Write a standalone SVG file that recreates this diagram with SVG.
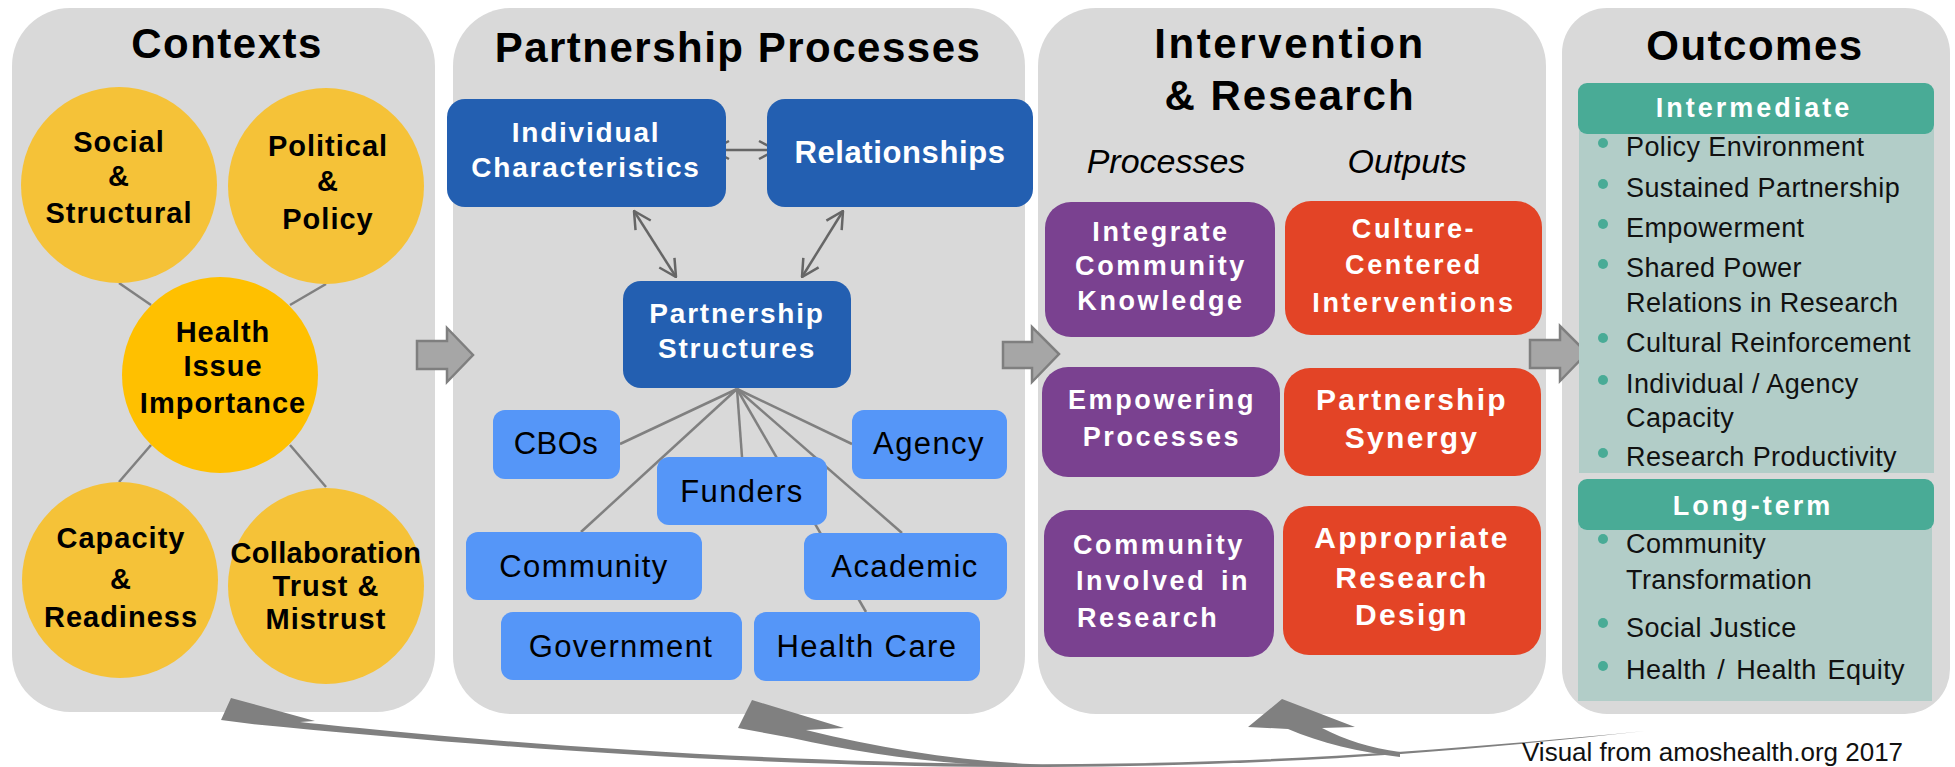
<svg xmlns="http://www.w3.org/2000/svg" width="1955" height="767" viewBox="0 0 1955 767">
<style>
text{font-family:"Liberation Sans",Arial,Helvetica,sans-serif}
.panel{fill:#d9d9d9}
.title{font-size:42px;font-weight:bold;fill:#000;text-anchor:middle;letter-spacing:1.5px}
.circ{fill:#f5c238}
.ctext{font-size:29px;font-weight:bold;fill:#000;text-anchor:middle;letter-spacing:1px}
.db{fill:#235fb1}
.dbt{font-size:28px;font-weight:bold;fill:#fff;text-anchor:middle;letter-spacing:1.8px}
.lb{fill:#5596f8}
.lbt{font-size:31px;fill:#000;text-anchor:middle;letter-spacing:1.4px}
.pu{fill:#7a4190}
.or{fill:#e34426}
.bt{font-size:27px;font-weight:bold;fill:#fff;text-anchor:middle;letter-spacing:2.6px}
.bt2{font-size:30px;font-weight:bold;fill:#fff;text-anchor:middle;letter-spacing:2.3px}
.sub{font-size:34px;font-style:italic;fill:#000;text-anchor:middle}
.hd{fill:#49ab96}
.bd{fill:#b2cdc8}
.ht{font-size:27px;font-weight:bold;fill:#fff;text-anchor:middle;letter-spacing:3px}
.it{font-size:27px;fill:#111;letter-spacing:0.4px}
.dot{fill:#49ab96}
.ln{stroke:#808080;stroke-width:2.5;fill:none}
.dl{stroke:#666;stroke-width:2.5;fill:none}
.blk{fill:#a6a6a6;stroke:#7f7f7f;stroke-width:2.5}
.fb{fill:#808080}
</style>
<defs>
<marker id="ah" viewBox="0 0 20 22" refX="19" refY="11" markerWidth="20" markerHeight="22" markerUnits="userSpaceOnUse" orient="auto-start-reverse">
<path d="M2,2 L19,11 L2,20" fill="none" stroke="#666" stroke-width="2.5"/>
</marker>
</defs>

<!-- panels -->
<g id="panel-contexts">
<rect class="panel" x="12" y="8" width="423" height="704" rx="58"/>
<text class="title" x="227" y="58">Contexts</text>
</g>
<g id="panel-partnership">
<rect class="panel" x="453" y="8" width="572" height="706" rx="58"/>
<text class="title" x="738" y="62">Partnership Processes</text>
</g>
<g id="panel-intervention">
<rect class="panel" x="1038" y="8" width="508" height="706" rx="58"/>
<text class="title" x="1290" y="58" style="letter-spacing:2.6px">Intervention</text>
<text class="title" x="1290" y="110" style="letter-spacing:2px">&amp; Research</text>
<text class="sub" x="1166" y="173">Processes</text>
<text class="sub" x="1407" y="173">Outputs</text>
</g>
<g id="panel-outcomes">
<rect class="panel" x="1562" y="8" width="388" height="706" rx="45"/>
<text class="title" x="1755" y="60">Outcomes</text>
</g>

<!-- connectors -->
<g id="connectors">
<line class="ln" x1="119" y1="283" x2="151" y2="305"/>
<line class="ln" x1="326" y1="284" x2="290" y2="305"/>
<line class="ln" x1="151" y1="445" x2="119" y2="482"/>
<line class="ln" x1="290" y1="445" x2="326" y2="487"/>
<line class="ln" x1="737" y1="389" x2="620" y2="444"/>
<line class="ln" x1="737" y1="389" x2="581" y2="532"/>
<line class="ln" x1="737" y1="389" x2="742" y2="457"/>
<line class="ln" x1="737" y1="389" x2="866" y2="612"/>
<line class="ln" x1="737" y1="389" x2="902" y2="533"/>
<line class="ln" x1="737" y1="389" x2="852" y2="444"/>
<line class="dl" x1="712" y1="150" x2="776" y2="150" marker-start="url(#ah)" marker-end="url(#ah)"/>
<line class="dl" x1="634" y1="211" x2="676" y2="277" marker-start="url(#ah)" marker-end="url(#ah)"/>
<line class="dl" x1="843" y1="211" x2="802" y2="277" marker-start="url(#ah)" marker-end="url(#ah)"/>
<path class="blk" d="M417,341 H447 V328 L473,355 L447,382 V369 H417 Z"/>
<path class="blk" d="M1003,342 H1032 V327 L1059,354 L1032,382 V368 H1003 Z"/>
<path class="blk" d="M1530,340 H1560 V326 L1587,353 L1560,381 V368 H1530 Z"/>
<path class="fb" d="M231,698 L315,721 L300,722 C450,738 700,760 1000,764 C1250,766 1450,750 1645,731 C1450,753 1250,768 1000,767 C700,765 450,743 252,724 L221,720 Z"/>
<path class="fb" d="M752,700 L844,728 L806,730 C880,748 950,760 1030,764 L1030,767 C940,765 860,753 792,738 L738,728 Z"/>
<path class="fb" d="M1282,699 L1355,727 L1322,728 C1345,740 1370,748 1400,752 L1400,757 C1360,752 1320,743 1288,729 L1248,727 Z"/>
</g>

<!-- contexts nodes -->
<g id="social">
<circle class="circ" cx="119" cy="185" r="98"/>
<text class="ctext" x="119" y="152">Social</text>
<text class="ctext" x="119" y="186">&amp;</text>
<text class="ctext" x="119" y="223">Structural</text>
</g>
<g id="political">
<circle class="circ" cx="326" cy="186" r="98"/>
<text class="ctext" x="328" y="156">Political</text>
<text class="ctext" x="328" y="191">&amp;</text>
<text class="ctext" x="328" y="229">Policy</text>
</g>
<g id="health-issue">
<circle cx="220" cy="375" r="98" fill="#ffc000"/>
<text class="ctext" x="223" y="342">Health</text>
<text class="ctext" x="223" y="376">Issue</text>
<text class="ctext" x="223" y="413">Importance</text>
</g>
<g id="capacity">
<circle class="circ" cx="120" cy="580" r="98"/>
<text class="ctext" x="121" y="548">Capacity</text>
<text class="ctext" x="121" y="589">&amp;</text>
<text class="ctext" x="121" y="627">Readiness</text>
</g>
<g id="collaboration">
<circle class="circ" cx="326" cy="586" r="98"/>
<text class="ctext" x="326" y="563" style="letter-spacing:0.3px">Collaboration</text>
<text class="ctext" x="326" y="596">Trust &amp;</text>
<text class="ctext" x="326" y="629">Mistrust</text>
</g>

<!-- partnership nodes -->
<g id="individual">
<rect class="db" x="447" y="99" width="279" height="108" rx="18"/>
<text class="dbt" x="586" y="142">Individual</text>
<text class="dbt" x="586" y="177">Characteristics</text>
</g>
<g id="relationships">
<rect class="db" x="767" y="99" width="266" height="108" rx="18"/>
<text class="dbt" x="900" y="163" style="font-size:31px;letter-spacing:0.6px">Relationships</text>
</g>
<g id="structures">
<rect class="db" x="623" y="281" width="228" height="107" rx="18"/>
<text class="dbt" x="737" y="323">Partnership</text>
<text class="dbt" x="737" y="358">Structures</text>
</g>
<g id="cbos"><rect class="lb" x="493" y="410" width="127" height="69" rx="12"/><text class="lbt" x="556" y="454" style="letter-spacing:0.5px">CBOs</text></g>
<g id="agency"><rect class="lb" x="852" y="410" width="155" height="69" rx="12"/><text class="lbt" x="929" y="454">Agency</text></g>
<g id="funders"><rect class="lb" x="657" y="457" width="170" height="68" rx="12"/><text class="lbt" x="742" y="502">Funders</text></g>
<g id="community"><rect class="lb" x="466" y="532" width="236" height="68" rx="12"/><text class="lbt" x="584" y="577">Community</text></g>
<g id="academic"><rect class="lb" x="804" y="533" width="203" height="67" rx="12"/><text class="lbt" x="905" y="577">Academic</text></g>
<g id="government"><rect class="lb" x="501" y="612" width="241" height="68" rx="12"/><text class="lbt" x="621" y="657">Government</text></g>
<g id="healthcare"><rect class="lb" x="754" y="612" width="226" height="69" rx="12"/><text class="lbt" x="867" y="657">Health Care</text></g>

<!-- intervention nodes -->
<g id="integrate">
<rect class="pu" x="1045" y="202" width="230" height="135" rx="26"/>
<text class="bt" x="1161" y="241">Integrate</text>
<text class="bt" x="1161" y="275">Community</text>
<text class="bt" x="1161" y="310">Knowledge</text>
</g>
<g id="culture">
<rect class="or" x="1285" y="201" width="257" height="134" rx="26"/>
<text class="bt" x="1414" y="238">Culture-</text>
<text class="bt" x="1414" y="274">Centered</text>
<text class="bt" x="1414" y="312">Interventions</text>
</g>
<g id="empowering">
<rect class="pu" x="1042" y="367" width="238" height="110" rx="26"/>
<text class="bt" x="1162" y="409">Empowering</text>
<text class="bt" x="1162" y="446">Processes</text>
</g>
<g id="synergy">
<rect class="or" x="1284" y="368" width="257" height="108" rx="26"/>
<text class="bt2" x="1412" y="410">Partnership</text>
<text class="bt2" x="1412" y="448">Synergy</text>
</g>
<g id="involved">
<rect class="pu" x="1044" y="510" width="230" height="147" rx="26"/>
<text class="bt" x="1073" y="554" style="text-anchor:start">Community</text>
<text class="bt" x="1076" y="590" style="text-anchor:start">Involved</text>
<text class="bt" x="1221" y="590" style="text-anchor:start">in</text>
<text class="bt" x="1077" y="627" style="text-anchor:start">Research</text>
</g>
<g id="design">
<rect class="or" x="1283" y="506" width="258" height="149" rx="26"/>
<text class="bt2" x="1412" y="548">Appropriate</text>
<text class="bt2" x="1412" y="588">Research</text>
<text class="bt2" x="1412" y="625">Design</text>
</g>

<!-- outcomes nodes -->
<g id="intermediate">
<rect class="bd" x="1579" y="128" width="355" height="345"/>
<rect class="hd" x="1578" y="83" width="356" height="51" rx="9"/>
<text class="ht" x="1754" y="117">Intermediate</text>
<circle class="dot" cx="1603" cy="143" r="5"/><text class="it" x="1626" y="156">Policy Environment</text>
<circle class="dot" cx="1603" cy="184" r="5"/><text class="it" x="1626" y="197">Sustained Partnership</text>
<circle class="dot" cx="1603" cy="224" r="5"/><text class="it" x="1626" y="237">Empowerment</text>
<circle class="dot" cx="1603" cy="264" r="5"/><text class="it" x="1626" y="277">Shared Power</text>
<text class="it" x="1626" y="312">Relations in Research</text>
<circle class="dot" cx="1603" cy="338" r="5"/><text class="it" x="1626" y="352">Cultural Reinforcement</text>
<circle class="dot" cx="1603" cy="380" r="5"/><text class="it" x="1626" y="393">Individual / Agency</text>
<text class="it" x="1626" y="427">Capacity</text>
<circle class="dot" cx="1603" cy="453" r="5"/><text class="it" x="1626" y="466">Research Productivity</text>
</g>
<g id="longterm">
<rect class="bd" x="1578" y="524" width="354" height="177"/>
<rect class="hd" x="1578" y="479" width="356" height="51" rx="9"/>
<text class="ht" x="1753" y="515">Long-term</text>
<circle class="dot" cx="1603" cy="539" r="5"/><text class="it" x="1626" y="553">Community</text>
<text class="it" x="1626" y="589">Transformation</text>
<circle class="dot" cx="1603" cy="623" r="5"/><text class="it" x="1626" y="637">Social Justice</text>
<circle class="dot" cx="1603" cy="666" r="5"/><text class="it" x="1626" y="679" style="word-spacing:3px">Health / Health Equity</text>
</g>

<text x="1522" y="761" style="font-size:26px;fill:#111">Visual from amoshealth.org 2017</text>
</svg>
